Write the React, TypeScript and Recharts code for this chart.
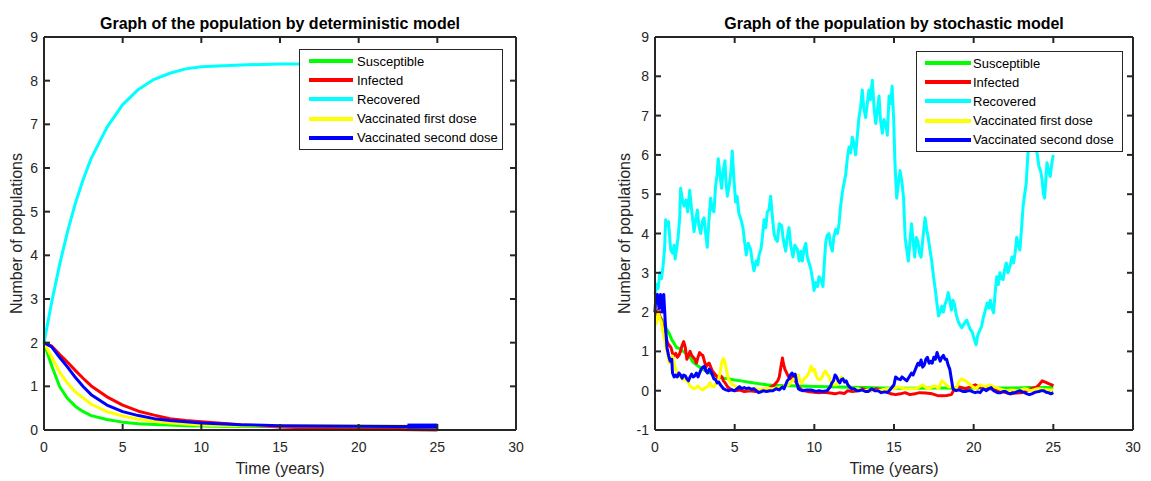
import React from 'react';
import { LineChart, Line, XAxis, YAxis, Legend } from 'recharts';

// shared axis ticks
const xTicks = [0, 5, 10, 15, 20, 25, 30];
const detYTicks = [0, 1, 2, 3, 4, 5, 6, 7, 8, 9];
const stoYTicks = [-1, 0, 1, 2, 3, 4, 5, 6, 7, 8, 9];

const seriesNames = ['Susceptible', 'Infected', 'Recovered', 'Vaccinated first dose', 'Vaccinated second dose'];
const seriesColors = ['#00ff00', '#ff0000', '#00ffff', '#ffff00', '#0000ff'];

// deterministic model
const detTime = [0, 0.5, 1, 1.5, 2, 2.5, 3, 4, 5, 6, 7, 8, 9, 10, 12.5, 15, 17.5, 20, 22.5, 25];
const detSusceptible = [2.0, 1.46, 0.99, 0.72, 0.54, 0.42, 0.33, 0.24, 0.18, 0.145, 0.125, 0.112, 0.1, 0.092, 0.082, 0.08, 0.08, 0.08, 0.08, 0.08];
const detInfected = [2.0, 1.92, 1.73, 1.55, 1.36, 1.18, 1.01, 0.76, 0.57, 0.43, 0.34, 0.26, 0.22, 0.19, 0.12, 0.07, 0.04, 0.02, 0.01, 0.0];
const detRecovered = [2.0, 2.95, 3.8, 4.55, 5.2, 5.75, 6.22, 6.93, 7.45, 7.8, 8.03, 8.17, 8.27, 8.32, 8.36, 8.38, 8.38, 8.38, 8.38, 8.38];
const detFirstDose = [2.0, 1.66, 1.32, 1.07, 0.87, 0.73, 0.59, 0.42, 0.32, 0.245, 0.2, 0.16, 0.135, 0.115, 0.1, 0.1, 0.1, 0.1, 0.1, 0.1];
const detSecondDose = [2.0, 1.9, 1.66, 1.44, 1.2, 0.99, 0.81, 0.57, 0.42, 0.33, 0.26, 0.22, 0.19, 0.16, 0.12, 0.1, 0.09, 0.085, 0.08, 0.08];
// thick blue stub at the end of the run
const detTailTime = [23.1, 25];
const detTailSecondDose = [0.09, 0.09];

// stochastic model, [time, value]
const stoSusceptible: [number, number][] = [
  [0, 1.95], [0.15, 2.0], [0.3, 1.85], [0.45, 1.8], [0.6, 1.65], [0.75, 1.55], [0.9, 1.45], [1.05, 1.3], [1.2, 1.2],
  [1.35, 1.1], [1.5, 1.08], [1.65, 1.02], [1.8, 1.0], [2.0, 0.92], [2.2, 0.85], [2.4, 0.72], [2.6, 0.66], [2.8, 0.6],
  [3.0, 0.55], [3.3, 0.48], [3.6, 0.42], [3.9, 0.37], [4.3, 0.32], [4.9, 0.28], [5.4, 0.25], [6.0, 0.21], [6.5, 0.18],
  [7.0, 0.15], [7.5, 0.13], [8.0, 0.13], [9.0, 0.12], [10.0, 0.11], [11.0, 0.1], [12.2, 0.085], [13.2, 0.08], [14.3, 0.07],
  [15.5, 0.06], [16.5, 0.06], [17.5, 0.07], [18.5, 0.07], [19.5, 0.06], [20.5, 0.07], [21.5, 0.07], [22.5, 0.07],
  [23.5, 0.08], [24.5, 0.08], [25, 0.08],
];

const stoInfected: [number, number][] = [
  [0, 2.05], [0.1, 1.8], [0.2, 2.05], [0.3, 1.9], [0.4, 1.8], [0.5, 1.6], [0.6, 1.5], [0.7, 1.35], [0.8, 1.2], [0.9, 1.15],
  [1.0, 1.1], [1.1, 0.95], [1.2, 0.9], [1.3, 0.95], [1.4, 0.85], [1.5, 0.9], [1.6, 1.0], [1.7, 1.15], [1.8, 1.25], [1.9, 1.1],
  [2.0, 0.8], [2.1, 0.9], [2.2, 1.0], [2.3, 0.9], [2.4, 0.85], [2.5, 0.8], [2.6, 0.7], [2.7, 0.85], [2.8, 0.97], [2.9, 0.92],
  [3.0, 0.9], [3.1, 0.75], [3.2, 0.6], [3.3, 0.68], [3.4, 0.7], [3.5, 0.6], [3.6, 0.5], [3.7, 0.45], [3.8, 0.4], [3.9, 0.35],
  [4.0, 0.3], [4.1, 0.38], [4.2, 0.35], [4.3, 0.25], [4.4, 0.2], [4.55, 0.1], [4.7, 0.05], [4.85, 0.02], [5.0, 0.0],
  [5.3, 0.02], [5.6, -0.02], [6.0, 0.0], [6.3, -0.02], [6.6, 0.0], [6.9, 0.03], [7.1, 0.05], [7.3, 0.1], [7.5, 0.15],
  [7.7, 0.25], [7.8, 0.35], [7.9, 0.6], [8.0, 0.83], [8.05, 0.7], [8.15, 0.55], [8.3, 0.42], [8.4, 0.35], [8.5, 0.3],
  [8.6, 0.38], [8.7, 0.4], [8.8, 0.25], [9.0, 0.1], [9.2, 0.02], [9.4, 0.0], [9.7, -0.03], [10.0, -0.04], [10.3, -0.05],
  [10.6, -0.04], [11.0, -0.06], [11.3, -0.08], [11.6, -0.05], [11.9, -0.07], [12.1, 0.0], [12.4, -0.02], [12.7, 0.0],
  [13.0, 0.05], [13.3, 0.02], [13.6, 0.0], [13.9, 0.05], [14.2, 0.02], [14.5, -0.02], [14.8, -0.08], [15.1, -0.1],
  [15.4, -0.08], [15.7, -0.05], [16.0, -0.1], [16.3, -0.08], [16.6, -0.05], [17.0, -0.06], [17.4, -0.08], [17.7, -0.12],
  [18.0, -0.13], [18.3, -0.12], [18.6, -0.1], [18.8, 0.05], [19.0, 0.1], [19.2, 0.08], [19.5, 0.05], [19.8, 0.1],
  [20.1, 0.15], [20.4, 0.08], [20.8, 0.05], [21.2, 0.05], [21.6, 0.0], [22.0, -0.05], [22.3, -0.08], [22.6, -0.06],
  [23.0, -0.05], [23.3, 0.0], [23.6, 0.05], [23.9, 0.08], [24.1, 0.15], [24.3, 0.25], [24.5, 0.22], [24.7, 0.18],
  [24.9, 0.15], [25.0, 0.12],
];

const stoRecovered: [number, number][] = [
  [0, 2.45], [0.1, 2.7], [0.2, 2.6], [0.3, 3.0], [0.4, 2.85], [0.5, 3.15], [0.6, 3.6], [0.67, 4.35], [0.75, 4.2], [0.85, 4.3],
  [0.98, 3.6], [1.1, 3.5], [1.2, 3.7], [1.26, 3.35], [1.35, 3.6], [1.45, 3.9], [1.55, 4.4], [1.61, 5.15], [1.7, 4.9],
  [1.82, 4.7], [1.95, 4.85], [2.05, 4.55], [2.18, 5.1], [2.3, 4.6], [2.45, 4.05], [2.55, 4.35], [2.66, 4.6], [2.75, 4.2],
  [2.87, 4.0], [2.97, 4.3], [3.08, 4.4], [3.18, 4.0], [3.28, 3.65], [3.38, 4.3], [3.49, 4.9], [3.6, 4.6], [3.7, 4.55],
  [3.8, 5.2], [3.9, 5.5], [3.97, 5.9], [4.08, 5.5], [4.18, 5.15], [4.28, 5.6], [4.39, 5.85], [4.46, 5.3], [4.54, 4.95],
  [4.65, 5.2], [4.75, 5.5], [4.85, 6.1], [4.95, 5.4], [5.06, 4.8], [5.15, 4.95], [5.27, 4.5], [5.4, 4.35], [5.52, 4.15],
  [5.62, 3.8], [5.73, 3.45], [5.85, 3.75], [6.0, 3.6], [6.1, 3.3], [6.21, 3.05], [6.35, 3.3], [6.45, 3.2], [6.53, 3.45],
  [6.65, 3.6], [6.74, 3.9], [6.85, 4.35], [6.95, 4.15], [7.05, 4.55], [7.15, 4.6], [7.26, 4.95], [7.35, 4.5], [7.47, 4.0],
  [7.58, 3.85], [7.68, 3.8], [7.8, 4.25], [7.95, 4.2], [8.05, 3.85], [8.2, 3.55], [8.3, 3.9], [8.41, 4.15], [8.52, 3.7],
  [8.66, 3.4], [8.78, 3.7], [8.93, 3.6], [9.05, 3.3], [9.15, 3.55], [9.25, 3.3], [9.35, 3.6], [9.46, 3.75], [9.56, 3.4],
  [9.67, 3.25], [9.78, 3.1], [9.9, 2.8], [9.98, 2.55], [10.1, 2.75], [10.2, 2.65], [10.29, 2.9], [10.4, 2.85], [10.54, 2.65],
  [10.62, 3.2], [10.71, 3.75], [10.8, 3.95], [10.92, 4.0], [11.02, 3.7], [11.13, 3.55], [11.22, 3.9], [11.34, 4.1],
  [11.45, 4.0], [11.55, 4.25], [11.65, 4.7], [11.76, 5.05], [11.87, 5.3], [11.97, 5.5], [12.08, 5.95], [12.18, 6.2],
  [12.28, 6.05], [12.38, 6.45], [12.48, 6.3], [12.59, 6.0], [12.7, 6.5], [12.8, 6.95], [12.9, 7.2], [13.01, 7.65],
  [13.1, 7.2], [13.22, 6.95], [13.32, 7.3], [13.43, 7.65], [13.52, 7.4], [13.64, 7.9], [13.75, 7.2], [13.85, 6.8],
  [13.95, 7.1], [14.06, 7.5], [14.15, 6.9], [14.27, 6.55], [14.37, 6.9], [14.48, 6.8], [14.58, 6.5], [14.69, 7.5],
  [14.8, 7.3], [14.88, 7.75], [14.98, 6.9], [15.06, 5.8], [15.17, 4.9], [15.28, 5.3], [15.38, 5.6], [15.5, 5.3],
  [15.6, 4.9], [15.7, 3.9], [15.8, 3.6], [15.9, 3.3], [16.0, 3.8], [16.1, 4.25], [16.2, 3.8], [16.3, 3.4], [16.4, 3.9],
  [16.5, 3.8], [16.6, 3.5], [16.7, 3.4], [16.82, 3.9], [16.95, 4.4], [17.05, 4.1], [17.15, 3.9], [17.25, 3.6], [17.37, 3.3],
  [17.48, 2.9], [17.6, 2.55], [17.7, 2.2], [17.8, 1.9], [17.9, 2.0], [18.0, 2.15], [18.1, 2.0], [18.2, 2.2], [18.3, 2.3],
  [18.4, 2.5], [18.5, 2.3], [18.6, 2.05], [18.7, 2.3], [18.8, 2.2], [18.9, 1.95], [19.0, 1.8], [19.1, 1.7], [19.25, 1.6],
  [19.4, 1.7], [19.56, 1.8], [19.7, 1.65], [19.8, 1.55], [19.9, 1.5], [20.05, 1.3], [20.15, 1.17], [20.25, 1.4],
  [20.35, 1.5], [20.5, 1.64], [20.6, 1.85], [20.7, 2.0], [20.85, 2.23], [20.95, 2.1], [21.05, 2.3], [21.15, 2.1],
  [21.25, 1.98], [21.35, 2.5], [21.45, 2.9], [21.55, 2.7], [21.65, 3.0], [21.75, 2.85], [21.85, 2.83], [21.95, 3.1],
  [22.05, 3.25], [22.15, 3.0], [22.3, 3.2], [22.4, 3.4], [22.5, 3.25], [22.6, 3.5], [22.7, 3.9], [22.8, 3.7], [22.9, 3.58],
  [23.0, 4.1], [23.1, 4.68], [23.2, 5.0], [23.3, 5.28], [23.4, 6.0], [23.5, 6.4], [23.6, 6.6], [23.7, 6.5], [23.8, 6.3],
  [23.9, 6.2], [24.0, 6.0], [24.1, 5.7], [24.2, 5.6], [24.3, 5.35], [24.38, 5.0], [24.45, 4.9], [24.52, 5.3], [24.6, 5.8],
  [24.7, 5.6], [24.8, 5.45], [24.88, 5.7], [24.95, 5.9], [25.0, 6.0],
];

const stoFirstDose: [number, number][] = [
  [0, 1.9], [0.1, 1.7], [0.2, 2.0], [0.3, 1.85], [0.4, 1.75], [0.5, 1.5], [0.6, 1.3], [0.7, 1.1], [0.8, 0.9], [0.9, 0.7],
  [1.0, 0.8], [1.1, 0.88], [1.2, 0.7], [1.3, 0.55], [1.4, 0.45], [1.5, 0.4], [1.6, 0.35], [1.7, 0.3], [1.8, 0.28], [1.9, 0.3],
  [2.0, 0.25], [2.1, 0.2], [2.2, 0.12], [2.4, 0.05], [2.6, 0.08], [2.7, 0.12], [2.85, 0.05], [3.0, 0.02], [3.15, 0.08],
  [3.3, 0.1], [3.45, 0.2], [3.55, 0.12], [3.7, 0.1], [3.85, 0.2], [4.0, 0.3], [4.1, 0.5], [4.2, 0.75], [4.3, 0.82],
  [4.4, 0.7], [4.5, 0.5], [4.6, 0.3], [4.75, 0.2], [4.9, 0.15], [5.1, 0.1], [5.4, 0.08], [5.8, 0.05], [6.2, 0.05],
  [6.6, 0.04], [7.0, 0.06], [7.4, 0.05], [7.8, 0.08], [8.1, 0.12], [8.4, 0.15], [8.6, 0.25], [8.8, 0.32], [9.0, 0.4],
  [9.1, 0.25], [9.2, 0.2], [9.35, 0.3], [9.5, 0.35], [9.65, 0.45], [9.8, 0.62], [9.9, 0.5], [10.0, 0.55], [10.1, 0.4],
  [10.2, 0.3], [10.35, 0.28], [10.5, 0.35], [10.6, 0.45], [10.7, 0.5], [10.8, 0.42], [10.9, 0.38], [11.0, 0.25],
  [11.1, 0.2], [11.25, 0.15], [11.4, 0.15], [11.55, 0.28], [11.7, 0.35], [11.85, 0.25], [12.0, 0.2], [12.2, 0.1],
  [12.4, 0.05], [12.7, 0.05], [13.0, 0.0], [13.4, 0.02], [13.8, 0.0], [14.2, 0.02], [14.6, 0.05], [15.0, 0.05],
  [15.3, 0.1], [15.6, 0.05], [16.0, 0.05], [16.4, 0.05], [16.8, 0.15], [17.0, 0.08], [17.2, 0.05], [17.4, 0.1],
  [17.6, 0.12], [17.8, 0.05], [18.0, 0.25], [18.2, 0.18], [18.4, 0.1], [18.7, 0.1], [18.9, 0.05], [19.1, 0.25],
  [19.25, 0.3], [19.5, 0.25], [19.8, 0.15], [20.1, 0.05], [20.4, 0.15], [20.7, 0.1], [21.0, 0.15], [21.3, 0.1],
  [21.6, 0.05], [22.0, 0.0], [22.4, 0.02], [22.8, 0.0], [23.2, 0.05], [23.6, 0.0], [24.0, 0.05], [24.4, 0.03],
  [24.7, 0.02], [25.0, 0.02],
];

const stoSecondDose: [number, number][] = [
  [0, 2.0], [0.05, 2.4], [0.15, 2.45], [0.25, 2.1], [0.35, 2.45], [0.45, 2.0], [0.55, 2.45], [0.65, 1.7], [0.75, 1.1],
  [0.85, 0.9], [0.95, 0.75], [1.05, 0.8], [1.1, 0.45], [1.2, 0.35], [1.3, 0.4], [1.4, 0.35], [1.5, 0.45], [1.6, 0.4],
  [1.7, 0.32], [1.8, 0.4], [1.9, 0.38], [2.0, 0.3], [2.1, 0.25], [2.2, 0.35], [2.3, 0.42], [2.4, 0.35], [2.5, 0.38],
  [2.6, 0.45], [2.7, 0.35], [2.8, 0.45], [2.9, 0.55], [3.0, 0.6], [3.1, 0.62], [3.2, 0.5], [3.3, 0.45], [3.4, 0.55],
  [3.5, 0.5], [3.6, 0.4], [3.7, 0.3], [3.8, 0.28], [3.9, 0.2], [4.0, 0.22], [4.1, 0.15], [4.2, 0.1], [4.3, 0.05],
  [4.45, 0.02], [4.6, 0.0], [4.8, 0.02], [5.0, 0.0], [5.15, 0.05], [5.3, 0.1], [5.45, 0.05], [5.6, 0.08], [5.75, 0.05],
  [5.9, 0.07], [6.05, 0.03], [6.2, 0.05], [6.35, 0.0], [6.5, -0.05], [6.65, -0.03], [6.8, 0.0], [7.0, -0.02], [7.2, 0.0],
  [7.4, 0.0], [7.6, 0.05], [7.8, 0.02], [8.0, 0.1], [8.1, 0.05], [8.2, 0.15], [8.3, 0.25], [8.4, 0.3], [8.5, 0.4],
  [8.6, 0.45], [8.7, 0.38], [8.8, 0.42], [8.9, 0.2], [9.0, 0.05], [9.1, 0.02], [9.3, 0.0], [9.5, 0.02], [9.8, 0.02],
  [10.1, -0.02], [10.3, 0.0], [10.5, -0.02], [10.8, 0.0], [11.0, 0.1], [11.1, 0.2], [11.2, 0.25], [11.3, 0.4],
  [11.4, 0.35], [11.5, 0.25], [11.6, 0.2], [11.7, 0.28], [11.8, 0.3], [11.9, 0.22], [12.0, 0.25], [12.1, 0.15],
  [12.2, 0.1], [12.35, 0.05], [12.5, 0.05], [12.65, 0.0], [12.8, 0.0], [13.0, 0.02], [13.2, -0.02], [13.4, -0.02],
  [13.6, 0.05], [13.8, 0.0], [14.0, 0.0], [14.2, -0.05], [14.4, -0.03], [14.6, -0.05], [14.8, 0.05], [15.0, 0.15],
  [15.1, 0.35], [15.25, 0.3], [15.4, 0.28], [15.5, 0.35], [15.65, 0.3], [15.8, 0.25], [15.95, 0.35], [16.1, 0.45],
  [16.2, 0.4], [16.3, 0.5], [16.4, 0.6], [16.5, 0.7], [16.6, 0.65], [16.7, 0.78], [16.8, 0.6], [16.9, 0.65], [17.0, 0.8],
  [17.1, 0.85], [17.2, 0.7], [17.3, 0.75], [17.4, 0.7], [17.5, 0.85], [17.6, 0.8], [17.7, 0.97], [17.8, 0.85],
  [17.9, 0.75], [18.0, 0.85], [18.1, 0.9], [18.2, 0.8], [18.3, 0.8], [18.4, 0.65], [18.5, 0.55], [18.6, 0.3], [18.7, 0.05],
  [18.8, 0.02], [18.9, 0.0], [19.05, 0.02], [19.2, 0.0], [19.35, -0.02], [19.5, -0.02], [19.65, 0.0], [19.8, 0.0],
  [19.95, -0.03], [20.1, -0.05], [20.25, -0.03], [20.4, -0.05], [20.6, 0.05], [20.8, 0.0], [20.95, 0.05], [21.1, 0.08],
  [21.2, 0.02], [21.35, -0.02], [21.5, -0.05], [21.7, -0.05], [21.85, -0.02], [22.0, -0.02], [22.15, -0.06], [22.3, -0.08],
  [22.45, -0.05], [22.6, -0.05], [22.75, -0.02], [22.9, 0.0], [23.05, -0.03], [23.2, -0.05], [23.35, -0.08], [23.5, -0.1],
  [23.65, -0.08], [23.8, -0.05], [23.95, -0.03], [24.1, -0.02], [24.25, 0.0], [24.4, 0.0], [24.55, -0.04], [24.7, -0.05],
  [24.85, -0.08], [25.0, -0.05],
];

const FONT = '"Liberation Sans", Arial, Helvetica, sans-serif';
const INK = '#262626';
const TICK_LEN = 6;
const TICK_GAP = 8;
const axisLineStyle = { stroke: INK, strokeWidth: 2 };

const zipSeries = (t: number[], v: number[]) => t.map((time, i) => ({ t: time, v: v[i] }));
const fromPairs = (p: [number, number][]) => p.map(([t, v]) => ({ t, v }));

// MATLAB style ticks: short marks pointing into the box, labels only on bottom/left
const makeTick = (side: 'bottom' | 'left' | 'top' | 'right') => (props: any) => {
  const { x, y, payload } = props;
  if (side === 'bottom') {
    const ay = y - TICK_GAP;
    return (
      <g>
        <line x1={x} y1={ay} x2={x} y2={ay - TICK_LEN} stroke={INK} strokeWidth={2} />
        <text x={x} y={ay + 22} textAnchor="middle" fill={INK} fontSize={14} fontFamily={FONT}>
          {payload.value}
        </text>
      </g>
    );
  }
  if (side === 'left') {
    const ax = x + TICK_GAP;
    return (
      <g>
        <line x1={ax} y1={y} x2={ax + TICK_LEN} y2={y} stroke={INK} strokeWidth={2} />
        <text x={ax - 6} y={y + 5} textAnchor="end" fill={INK} fontSize={14} fontFamily={FONT}>
          {payload.value}
        </text>
      </g>
    );
  }
  if (side === 'top') {
    const ay = y + TICK_GAP;
    return <line x1={x} y1={ay} x2={x} y2={ay + TICK_LEN} stroke={INK} strokeWidth={2} />;
  }
  const ax = x - TICK_GAP;
  return <line x1={ax} y1={y} x2={ax - TICK_LEN} y2={y} stroke={INK} strokeWidth={2} />;
};

const bottomTick = makeTick('bottom');
const leftTick = makeTick('left');
const topTick = makeTick('top');
const rightTick = makeTick('right');

const LegendBox = ({ swatchLeft, swatchWidth, textLeft }: { swatchLeft: number; swatchWidth: number; textLeft: number }) => (
  <div
    style={{
      width: '100%',
      height: '100%',
      boxSizing: 'border-box',
      border: `1px solid ${INK}`,
      background: '#fff',
      paddingTop: 1.5,
      fontFamily: FONT,
    }}
  >
    {seriesNames.map((name, i) => (
      <div key={name} style={{ position: 'relative', height: 19.2 }}>
        <div
          style={{ position: 'absolute', left: swatchLeft, top: 7.6, width: swatchWidth, height: 4, background: seriesColors[i] }}
        />
        <div style={{ position: 'absolute', left: textLeft, top: 0, lineHeight: '19.2px', fontSize: 13, color: '#000', whiteSpace: 'nowrap' }}>
          {name}
        </div>
      </div>
    ))}
  </div>
);

interface PanelProps {
  series: { t: number; v: number }[][];
  yDomain: [number, number];
  yTicks: number[];
  width: number;
  margin: { top: number; right: number; bottom: number; left: number };
  legendStyle: React.CSSProperties;
  legendLayout: { swatchLeft: number; swatchWidth: number; textLeft: number };
  extra?: React.ReactNode;
}

const Panel = ({ series, yDomain, yTicks, width, margin, legendStyle, legendLayout, extra }: PanelProps) => (
  <LineChart width={width} height={481} margin={margin}>
    <XAxis
      dataKey="t"
      type="number"
      domain={[0, 30]}
      ticks={xTicks}
      interval={0}
      height={30}
      tickSize={0}
      tickMargin={TICK_GAP}
      tickLine={false}
      tick={bottomTick}
      axisLine={axisLineStyle}
    />
    <XAxis
      xAxisId="top"
      orientation="top"
      dataKey="t"
      type="number"
      domain={[0, 30]}
      ticks={xTicks}
      interval={0}
      height={1}
      tickSize={0}
      tickMargin={TICK_GAP}
      tickLine={false}
      tick={topTick}
      axisLine={axisLineStyle}
    />
    <YAxis
      type="number"
      domain={yDomain}
      ticks={yTicks}
      interval={0}
      width={40}
      tickSize={0}
      tickMargin={TICK_GAP}
      tickLine={false}
      tick={leftTick}
      axisLine={axisLineStyle}
    />
    <YAxis
      yAxisId="right"
      orientation="right"
      type="number"
      domain={yDomain}
      ticks={yTicks}
      interval={0}
      width={1}
      tickSize={0}
      tickMargin={TICK_GAP}
      tickLine={false}
      tick={rightTick}
      axisLine={axisLineStyle}
    />
    {/* invisible copy bound to the top/right axes so they get their ticks */}
    <Line
      xAxisId="top"
      yAxisId="right"
      data={series[0]}
      dataKey="v"
      name="frame"
      stroke="none"
      dot={false}
      activeDot={false}
      legendType="none"
      isAnimationActive={false}
    />
    {series.map((data, i) => (
      <Line
        key={seriesNames[i]}
        data={data}
        dataKey="v"
        name={seriesNames[i]}
        type="linear"
        stroke={seriesColors[i]}
        strokeWidth={3}
        strokeLinejoin="round"
        dot={false}
        activeDot={false}
        isAnimationActive={false}
      />
    ))}
    {extra}
    <Legend
      layout="vertical"
      align="center"
      verticalAlign="middle"
      wrapperStyle={legendStyle}
      content={() => <LegendBox {...legendLayout} />}
    />
  </LineChart>
);

export default function App() {
  const detSeries = [
    zipSeries(detTime, detSusceptible),
    zipSeries(detTime, detInfected),
    zipSeries(detTime, detRecovered),
    zipSeries(detTime, detFirstDose),
    zipSeries(detTime, detSecondDose),
  ];
  const stoSeries = [
    fromPairs(stoSusceptible),
    fromPairs(stoInfected),
    fromPairs(stoRecovered),
    fromPairs(stoFirstDose),
    fromPairs(stoSecondDose),
  ];

  const blueTail = (
    <Line
      data={zipSeries(detTailTime, detTailSecondDose)}
      dataKey="v"
      name="tail"
      type="linear"
      stroke={seriesColors[4]}
      strokeWidth={5}
      dot={false}
      activeDot={false}
      legendType="none"
      isAnimationActive={false}
    />
  );

  const textStyle = { fontFamily: FONT };

  return (
    <div style={{ position: 'absolute', left: 0, top: 0, width: 1151, height: 481, background: '#fff', fontFamily: FONT }}>
      <div style={{ position: 'absolute', left: 0, top: 0 }}>
        <Panel
          series={detSeries}
          yDomain={[0, 9]}
          yTicks={detYTicks}
          width={580}
          margin={{ top: 36, right: 63, bottom: 21, left: 4 }}
          legendStyle={{ left: 299, top: 49, width: 204, height: 101 }}
          legendLayout={{ swatchLeft: 9, swatchWidth: 44, textLeft: 57 }}
          extra={blueTail}
        />
      </div>
      <div style={{ position: 'absolute', left: 580, top: 0 }}>
        <Panel
          series={stoSeries}
          yDomain={[-1, 9]}
          yTicks={stoYTicks}
          width={571}
          margin={{ top: 36, right: 17, bottom: 21, left: 35 }}
          legendStyle={{ left: 336, top: 51, width: 207, height: 101 }}
          legendLayout={{ swatchLeft: 8, swatchWidth: 46, textLeft: 56 }}
        />
      </div>
      <svg width={1151} height={481} style={{ position: 'absolute', left: 0, top: 0, pointerEvents: 'none' }}>
        <text x={280} y={29} textAnchor="middle" fontSize={16} fontWeight="bold" fill="#000" style={textStyle}>
          Graph of the population by deterministic model
        </text>
        <text x={894} y={29} textAnchor="middle" fontSize={16} fontWeight="bold" fill="#000" style={textStyle}>
          Graph of the population by stochastic model
        </text>
        <text x={280} y={474} textAnchor="middle" fontSize={16} fill={INK} style={textStyle}>
          Time (years)
        </text>
        <text x={894} y={474} textAnchor="middle" fontSize={16} fill={INK} style={textStyle}>
          Time (years)
        </text>
        <text transform="translate(22,233.5) rotate(-90)" textAnchor="middle" fontSize={16} fill={INK} style={textStyle}>
          Number of populations
        </text>
        <text transform="translate(630,233.5) rotate(-90)" textAnchor="middle" fontSize={16} fill={INK} style={textStyle}>
          Number of populations
        </text>
      </svg>
    </div>
  );
}
